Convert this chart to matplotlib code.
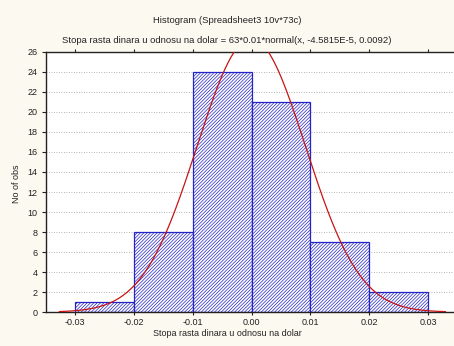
import numpy as np
import matplotlib
matplotlib.use("Agg")
import matplotlib.pyplot as plt

plt.rcParams['font.family'] = ['Liberation Sans', 'DejaVu Sans']
plt.rcParams['hatch.linewidth'] = 0.5
plt.rcParams['hatch.color'] = '#6a6ab4'

# histogram data
bin_edges = [-0.03, -0.02, -0.01, 0.00, 0.01, 0.02, 0.03]
counts = [1, 8, 24, 21, 7, 2]

# fitted normal curve: 63*0.01*normal(x, mu, sigma)
n_obs = 63
bin_width = 0.01
mu = -4.5815e-5
sigma = 0.0092
curve_range = [-0.0326, 0.0329]

xticks = [-0.03, -0.02, -0.01, 0.00, 0.01, 0.02, 0.03]
xtick_labels = ['-0.03', '-0.02', '-0.01', '0.00', '0.01', '0.02', '0.03']
yticks = list(range(0, 27, 2))

bg = '#fcfaf0'
fig = plt.figure(figsize=(4.54, 3.46), dpi=100, facecolor=bg)
ax = fig.add_axes([0.101, 0.098, 0.91, 0.752])
ax.set_facecolor('white')

lefts = bin_edges[:-1]
widths = np.diff(bin_edges)
ax.bar(lefts, counts, width=widths, align='edge', facecolor='white',
       edgecolor='#2323c8', linewidth=0.9, hatch='//////////', zorder=2)

xs = np.linspace(curve_range[0], curve_range[1], 400)
ys = n_obs * bin_width * np.exp(-0.5 * ((xs - mu) / sigma) ** 2) / (sigma * np.sqrt(2 * np.pi))
ax.plot(xs, ys, color='#c81414', linewidth=0.9, zorder=3)

ax.set_xlim(-0.0349, 0.0352)
ax.set_ylim(0, 26)
ax.set_xticks(xticks)
ax.set_xticklabels(xtick_labels)
ax.set_yticks(yticks)
ax.yaxis.grid(True, linestyle=(0, (1, 2)), color='#9a9a9a', linewidth=0.6, zorder=0)
ax.set_axisbelow(True)

ax.tick_params(axis='both', labelsize=6.5, width=0.8, colors='#222222')
ax.tick_params(axis='x', top=True, direction='out', length=2, pad=2)
ax.tick_params(axis='y', length=3, pad=3)
for s in ax.spines.values():
    s.set_color('#222222')
    s.set_linewidth(1.0)

fig.text(0.5, 0.036, 'Stopa rasta dinara u odnosu na dolar', ha='center', va='center',
         fontsize=6.5, color='#222222')
fig.text(0.036, 0.47, 'No of obs', ha='center', va='center', rotation=90,
         fontsize=6.5, color='#222222')

fig.text(0.5, 0.942, 'Histogram (Spreadsheet3 10v*73c)', ha='center', va='center',
         fontsize=6.8, color='#222222')
fig.text(0.5, 0.884, 'Stopa rasta dinara u odnosu na dolar = 63*0.01*normal(x, -4.5815E-5, 0.0092)',
         ha='center', va='center', fontsize=6.8, color='#222222')

fig.savefig('out.png', dpi=100, facecolor=bg)
